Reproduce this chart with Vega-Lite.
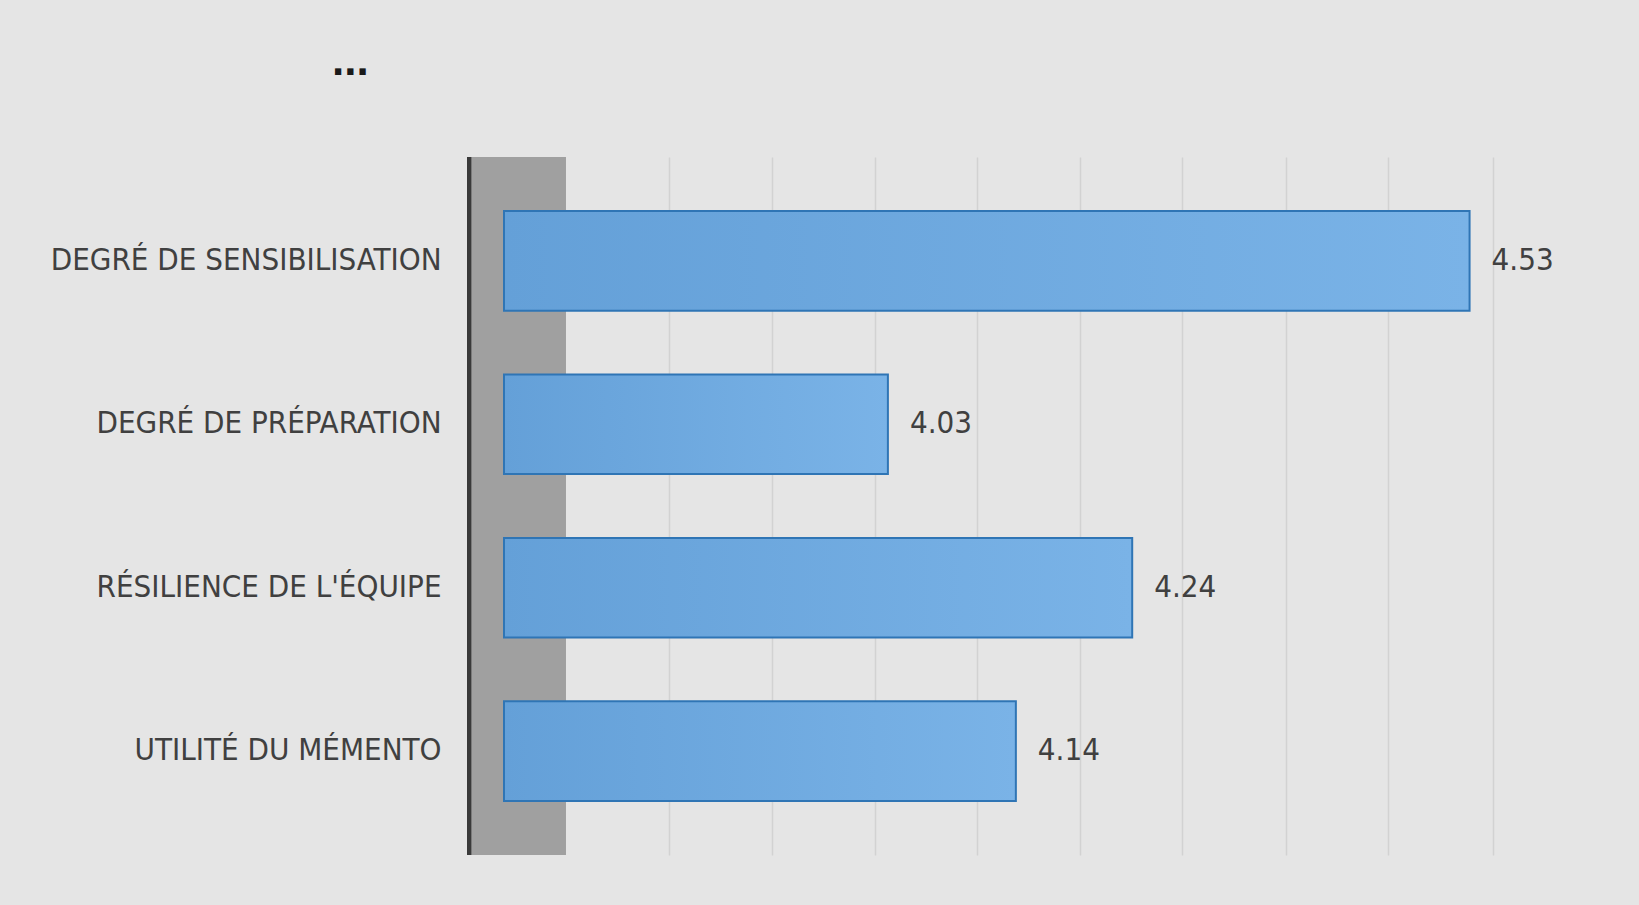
{
  "$schema": "https://vega.github.io/schema/vega-lite/v6.json",
  "autosize": {"type": "none"},
  "width": 1047,
  "height": 698,
  "padding": {"left": 504, "top": 157, "right": 88, "bottom": 50},
  "background": "#e5e5e5",
  "config": {
    "view": {"stroke": null},
    "font": "DejaVu Sans Condensed, sans-serif"
  },
  "title": {
    "text": "...",
    "anchor": "start",
    "frame": "group",
    "dx": -172,
    "offset": 27,
    "baseline": "bottom",
    "font": "Liberation Sans, sans-serif",
    "fontSize": 44,
    "fontWeight": "bold",
    "color": "#1a1a1a"
  },
  "data": {
    "values": [
      {"critere": "DEGRÉ DE SENSIBILISATION", "score": 4.53},
      {"critere": "DEGRÉ DE PRÉPARATION", "score": 4.03},
      {"critere": "RÉSILIENCE DE L'ÉQUIPE", "score": 4.24},
      {"critere": "UTILITÉ DU MÉMENTO", "score": 4.14}
    ]
  },
  "encoding": {
    "y": {
      "field": "critere",
      "type": "nominal",
      "sort": null,
      "scale": {"paddingInner": 0.39, "paddingOuter": 0.33},
      "axis": {
        "title": null,
        "domain": false,
        "ticks": false,
        "labelPadding": 63,
        "labelLimit": 600,
        "labelFontSize": 31,
        "labelColor": "#404040",
        "labelFont": "DejaVu Sans Condensed, sans-serif"
      }
    }
  },
  "layer": [
    {
      "mark": {"type": "rect", "color": "#a0a0a0"},
      "encoding": {
        "y": null,
        "x": {"datum": 3.67, "type": "quantitative"},
        "x2": {"datum": 3.753}
      }
    },
    {
      "mark": {"type": "rule", "color": "#3a3a3a", "strokeWidth": 4},
      "encoding": {
        "y": null,
        "x": {"datum": 3.67, "type": "quantitative"}
      }
    },
    {
      "mark": {
        "type": "bar",
        "stroke": "#2f75b5",
        "strokeWidth": 2,
        "fill": {
          "gradient": "linear",
          "x1": 0, "y1": 0, "x2": 1, "y2": 0,
          "stops": [
            {"offset": 0, "color": "#64a0d8"},
            {"offset": 1, "color": "#7ab3e7"}
          ]
        }
      },
      "encoding": {
        "x": {
          "field": "score",
          "type": "quantitative",
          "scale": {"domain": [3.7, 4.6], "nice": false, "zero": false},
          "axis": {
            "title": null,
            "labels": false,
            "ticks": false,
            "domain": false,
            "grid": true,
            "gridColor": "#d2d2d2",
            "gridWidth": 1.5,
            "values": [3.842, 3.93, 4.019, 4.107, 4.195, 4.283, 4.372, 4.46, 4.55]
          }
        },
        "x2": {"datum": 3.7}
      }
    },
    {
      "mark": {
        "type": "text",
        "align": "left",
        "baseline": "middle",
        "dx": 22,
        "fontSize": 31,
        "color": "#404040",
        "font": "DejaVu Sans Condensed, sans-serif"
      },
      "encoding": {
        "x": {"field": "score", "type": "quantitative"},
        "text": {"field": "score", "type": "quantitative", "format": ".2f"}
      }
    }
  ]
}
